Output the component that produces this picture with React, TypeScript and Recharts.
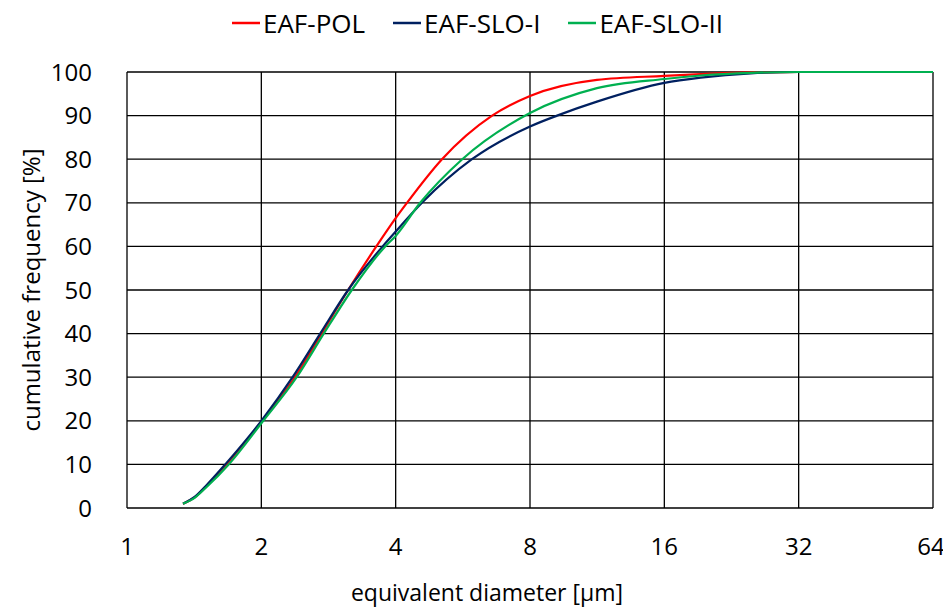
import React from 'react';
import { LineChart, Line, XAxis, YAxis, CartesianGrid, Label } from 'recharts';

// diameters in µm, cumulative frequency in %
const polDiameter = [1.335, 1.42, 1.5, 1.67, 2.01, 2.38, 2.73, 3.13, 3.62, 4.0, 4.24, 5.08, 6.58, 8, 11.3, 16, 19.3, 25, 32, 64];
const polFrequency = [1, 2.5, 4.8, 10, 20, 30, 40, 50, 60, 66.5, 70, 80, 90, 94.5, 98.2, 99.1, 99.5, 99.9, 100, 100];

const sloIDiameter = [1.335, 1.42, 1.5, 1.66, 2.0, 2.35, 2.71, 3.13, 3.74, 4.0, 4.58, 5.93, 8, 9.2, 11.3, 16, 19.3, 25, 32, 64];
const sloIFrequency = [1, 2.6, 5, 10, 20, 30, 40, 50, 60, 63.4, 70, 80, 87.5, 90, 93.2, 97.5, 98.7, 99.7, 100, 100];

const sloIIDiameter = [1.335, 1.42, 1.5, 1.69, 2.02, 2.4, 2.76, 3.19, 3.79, 4.0, 4.54, 5.64, 8, 11.3, 16, 19.3, 25, 32, 64];
const sloIIFrequency = [1, 2.4, 4.6, 10, 20, 30, 40, 50, 60, 62.4, 70, 80, 90.6, 96.3, 98.4, 99.2, 99.8, 100, 100];

const xTicks = [1, 2, 4, 8, 16, 32, 64];
const yTicks = [0, 10, 20, 30, 40, 50, 60, 70, 80, 90, 100];

const series = [
  { name: 'EAF-POL', color: '#ff0000', x: polDiameter, y: polFrequency },
  { name: 'EAF-SLO-I', color: '#002060', x: sloIDiameter, y: sloIFrequency },
  { name: 'EAF-SLO-II', color: '#00b050', x: sloIIDiameter, y: sloIIFrequency },
];

const toPoints = (xs: number[], ys: number[]) => xs.map((d, i) => ({ d, v: ys[i] }));

const font = '"Open Sans", sans-serif';

function XTitle({ viewBox }: any) {
  return (
    <text x={viewBox.x + viewBox.width / 2 - 43} y={viewBox.y + 93} textAnchor="middle"
      fontSize={23} fill="#000" fontFamily={font}>
      equivalent diameter [µm]
    </text>
  );
}

function YTitle({ viewBox }: any) {
  const cx = 22;
  const cy = viewBox.y + viewBox.height / 2;
  return (
    <text x={cx} y={cy} transform={`rotate(-90, ${cx}, ${cy})`} textAnchor="middle"
      dominantBaseline="central" fontSize={24} fill="#000" fontFamily={font}>
      cumulative frequency [%]
    </text>
  );
}

function ChartLegend() {
  return (
    <div style={{ position: 'absolute', top: 0, left: 0, width: 935, display: 'flex', justifyContent: 'center', fontFamily: font, fontSize: 26, color: '#000', lineHeight: '30px', paddingLeft: 2, zIndex: 1 }}>
      {series.map((s, i) => (
        <div key={s.name} style={{ display: 'flex', alignItems: 'center', marginLeft: i === 0 ? 0 : 28 }}>
          <svg width={28} height={4} style={{ marginRight: 3 }}>
            <line x1={0} y1={2} x2={28} y2={2} stroke={s.color} strokeWidth={2.5} />
          </svg>
          <span>{s.name}</span>
        </div>
      ))}
    </div>
  );
}

export default function App() {
  return (
    <div style={{ position: 'relative', width: 935, height: 602, fontFamily: font }}>
      {/* let the last x tick spill a few px past the svg box */}
      <style>{'.recharts-surface { overflow: visible; }'}</style>
      <ChartLegend />
      <LineChart width={935} height={602} margin={{ top: 64, right: 10, left: 0, bottom: 0 }}>
        <CartesianGrid stroke="#000" strokeWidth={1.3} horizontalValues={yTicks} verticalValues={xTicks} />
        <XAxis dataKey="d" type="number" scale="log" domain={[1, 64]} ticks={xTicks} allowDataOverflow
          height={102} axisLine={false} tickLine={false} tickSize={0} tickMargin={30}
          tick={{ fontSize: 24, fill: '#000', fontFamily: font }}>
          <Label content={XTitle} />
        </XAxis>
        <YAxis type="number" domain={[0, 100]} ticks={yTicks} width={119}
          axisLine={false} tickLine={false} tickSize={0} tickMargin={35}
          tick={{ fontSize: 24, fill: '#000', fontFamily: font }}>
          <Label content={YTitle} />
        </YAxis>
        {series.map(s => (
          <Line key={s.name} data={toPoints(s.x, s.y)} dataKey="v" name={s.name} type="monotone"
            stroke={s.color} strokeWidth={2.2} dot={false} isAnimationActive={false} />
        ))}
      </LineChart>
    </div>
  );
}
